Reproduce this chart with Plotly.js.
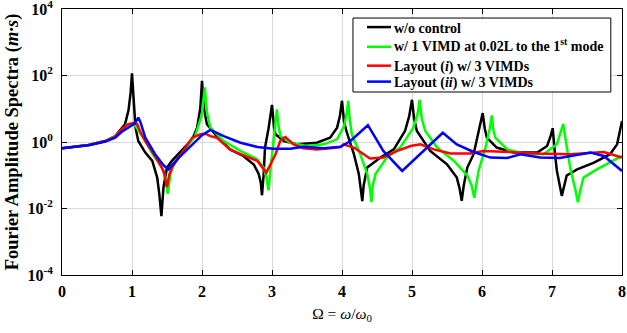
<!DOCTYPE html>
<html><head><meta charset="utf-8">
<script src="https://cdn.plot.ly/plotly-3.0.1.min.js"></script>
<style>body{margin:0;background:#fff}#c{width:627px;height:333px}</style>
</head><body><div id="c"></div>
<script>
const names = ["w/o control","w/ 1 VIMD at 0.02L to the 1<sup>st</sup> mode","Layout (<i>i</i>) w/ 3 VIMDs","Layout (<i>ii</i>) w/ 3 VIMDs"];
const colors = ["#000000","#00ff00","#ff0000","#0000ff"];

const blackX = [0,0.38,0.62,0.76,0.9,0.95,0.98,1.0,1.02,1.05,1.09,1.19,1.29,1.36,1.39,1.42,1.45,1.5,1.57,1.71,1.86,1.93,1.976,2.0,2.03,2.07,2.21,2.4,2.59,2.74,2.81,2.84,2.857,2.88,2.9,2.95,3.0,3.03,3.05,3.17,3.36,3.64,3.83,3.93,3.97,4.0,4.03,4.07,4.17,4.24,4.27,4.29,4.31,4.36,4.55,4.74,4.9,4.96,5.0,5.03,5.07,5.26,5.5,5.64,5.68,5.71,5.74,5.79,5.88,5.93,5.97,6.01,6.04,6.07,6.21,6.45,6.79,6.93,6.98,7.01,7.04,7.07,7.14,7.21,7.36,7.6,7.83,7.93,8.0];
const blackY = [0.65,0.81,1.07,1.5,3.4,9,30,117,25,2.7,1.07,0.48,0.27,0.085,0.0275,0.0059,0.044,0.17,0.27,0.54,1.2,2.7,10.5,69,10,3.4,1.5,0.6,0.38,0.21,0.11,0.06,0.025,0.1,0.68,2.5,13,2.7,1.7,1.07,0.85,0.95,1.35,2.7,6,17.4,4,1.9,0.43,0.11,0.04,0.0166,0.05,0.17,0.34,0.6,2.14,6,18.6,5,2.14,0.54,0.214,0.085,0.04,0.017,0.05,0.17,0.43,1.35,3,7.4,2.5,1.35,0.68,0.48,0.48,0.76,1.5,2.6,0.5,0.135,0.024,0.098,0.15,0.24,0.43,0.85,4.3];

const greenX = [0,0.38,0.62,0.76,0.88,0.93,0.97,1.02,1.05,1.19,1.29,1.43,1.48,1.51,1.55,1.6,1.76,1.9,2.0,2.02,2.04,2.07,2.12,2.31,2.55,2.79,2.88,2.92,2.95,2.97,3.0,3.04,3.07,3.09,3.12,3.26,3.5,3.74,3.93,4.03,4.07,4.09,4.11,4.14,4.26,4.36,4.4,4.42,4.44,4.48,4.64,4.83,5.02,5.08,5.11,5.14,5.19,5.36,5.6,5.79,5.85,5.89,5.92,5.95,6.05,6.11,6.14,6.16,6.19,6.36,6.59,6.88,7.07,7.13,7.16,7.2,7.26,7.33,7.37,7.41,7.45,7.64,7.83,8.0];
const greenY = [0.65,0.81,1.07,1.5,2.5,3.4,3.6,3.2,3.0,1.07,0.45,0.17,0.085,0.0275,0.11,0.22,0.6,1.5,6.8,15,44,8,2.7,1.07,0.54,0.3,0.17,0.09,0.035,0.1,0.43,2.5,9.5,3.5,1.5,0.95,0.76,0.85,1.2,3,8,17.4,5,1.7,0.43,0.11,0.04,0.0155,0.05,0.11,0.34,0.68,2.7,7,18.6,5,2.14,0.68,0.27,0.098,0.05,0.021,0.06,0.135,0.68,2.5,6.3,2.5,1.35,0.6,0.45,0.43,0.85,2,3.5,1.0,0.17,0.04,0.0155,0.04,0.085,0.15,0.24,0.38];

const redX = [0,0.38,0.62,0.76,0.86,0.95,1.03,1.07,1.12,1.19,1.33,1.45,1.5,1.53,1.57,1.71,1.86,1.98,2.05,2.12,2.21,2.4,2.5,2.79,2.92,3.05,3.12,3.19,3.31,3.45,3.64,3.83,3.98,4.02,4.17,4.31,4.4,4.59,4.79,4.98,5.12,5.31,5.55,5.83,6.02,6.31,6.79,7.26,7.74,8.0];
const redY = [0.65,0.81,1.07,1.45,2.5,3.4,3.8,3.6,2.0,1.07,0.38,0.135,0.044,0.1,0.17,0.48,1.35,1.7,1.78,1.5,1.35,0.6,0.48,0.27,0.12,0.43,1.1,1.4,0.85,0.65,0.6,0.65,0.71,0.85,0.68,0.43,0.32,0.34,0.54,0.76,0.85,0.6,0.45,0.45,0.54,0.51,0.45,0.43,0.5,0.34];

const blueX = [0,0.38,0.62,0.76,0.85,0.95,1.03,1.09,1.12,1.19,1.33,1.45,1.52,1.67,1.86,2.0,2.12,2.31,2.55,2.79,3.02,3.26,3.45,3.74,3.98,4.12,4.37,4.59,4.86,5.12,5.44,5.64,5.88,6.12,6.36,6.55,6.83,7.11,7.55,7.74,8.0];
const blueY = [0.65,0.8,1.03,1.35,2.0,2.8,3.5,5.4,4,1.35,0.43,0.2,0.15,0.34,0.85,1.6,2.3,1.5,0.95,0.71,0.63,0.63,0.72,0.65,0.72,1.07,3.2,0.54,0.135,0.43,1.9,0.85,0.5,0.34,0.33,0.43,0.34,0.33,0.48,0.38,0.135];

const xTicks = [0,1,2,3,4,5,6,7,8];
const yTicks = [1e-4,1e-2,1,1e2,1e4];
const yTickText = ["10<sup>-4</sup>","10<sup>-2</sup>","10<sup>0</sup>","10<sup>2</sup>","10<sup>4</sup>"];

const series = [[blackX,blackY],[greenX,greenY],[redX,redY],[blueX,blueY]];
const traces = series.map((s,i)=>({x:s[0],y:s[1],type:'scatter',mode:'lines',name:names[i],showlegend:false,line:{color:colors[i],width:2.5}}));

const F = 'Liberation Serif, Times New Roman, serif';

// manual legend (box, sample lines, labels) in paper coordinates
const lgX0 = 0.5196, lgX1 = 0.980, lgY0 = 0.688, lgY1 = 0.966;
const rowY = [0.932, 0.858, 0.787, 0.727];
const shapes = [{type:'rect',xref:'paper',yref:'paper',x0:lgX0,x1:lgX1,y0:lgY0,y1:lgY1,fillcolor:'#fff',line:{color:'#000',width:1},layer:'above'}];
const annotations = [];
names.forEach((n,i)=>{
  shapes.push({type:'line',xref:'paper',yref:'paper',x0:0.5446,x1:0.5875,y0:rowY[i],y1:rowY[i],line:{color:colors[i],width:2.5},layer:'above'});
  annotations.push({xref:'paper',yref:'paper',x:0.5893,y:rowY[i],xanchor:'left',yanchor:'middle',showarrow:false,
    text:'<b>'+n+'</b>',font:{family:F,size:14,color:'#000'},yshift:(i===1?2:-1)});
});

const layout = {
  width:627,height:333,
  margin:{l:62,r:5,t:9,b:58},
  paper_bgcolor:'#fff',plot_bgcolor:'#fff',
  font:{family:F,color:'#000'},
  showlegend:false,
  shapes:shapes,
  annotations:annotations,
  xaxis:{range:[0,8],tickvals:xTicks,ticktext:xTicks.map(String),showgrid:true,gridcolor:'#d9d9d9',gridwidth:1,
         zeroline:false,showline:true,linecolor:'#000',linewidth:1,mirror:'ticks',ticks:'inside',ticklen:5,tickcolor:'#000',
         tickfont:{family:F,size:16,weight:'bold'},ticklabelstandoff:2,ticklabeloverflow:'allow',
         title:{text:'Ω = <i>ω</i>/<i>ω</i><sub>0</sub>',font:{family:F,size:15.5},standoff:8}},
  yaxis:{type:'log',range:[-4.0005,4.0005],tickvals:yTicks,ticktext:yTickText,showgrid:true,gridcolor:'#d9d9d9',gridwidth:1,
         zeroline:false,showline:true,linecolor:'#000',linewidth:1,mirror:'ticks',ticks:'inside',ticklen:5,tickcolor:'#000',
         tickfont:{family:F,size:16,weight:'bold'},ticklabelstandoff:5,ticklabeloverflow:'allow',
         title:{text:'<b>Fourier Amplitude Spectra (<i>m·s</i>)</b>',font:{family:F,size:18.5},standoff:3}}
};
Plotly.newPlot('c',traces,layout,{staticPlot:true,displayModeBar:false});
</script></body></html>
